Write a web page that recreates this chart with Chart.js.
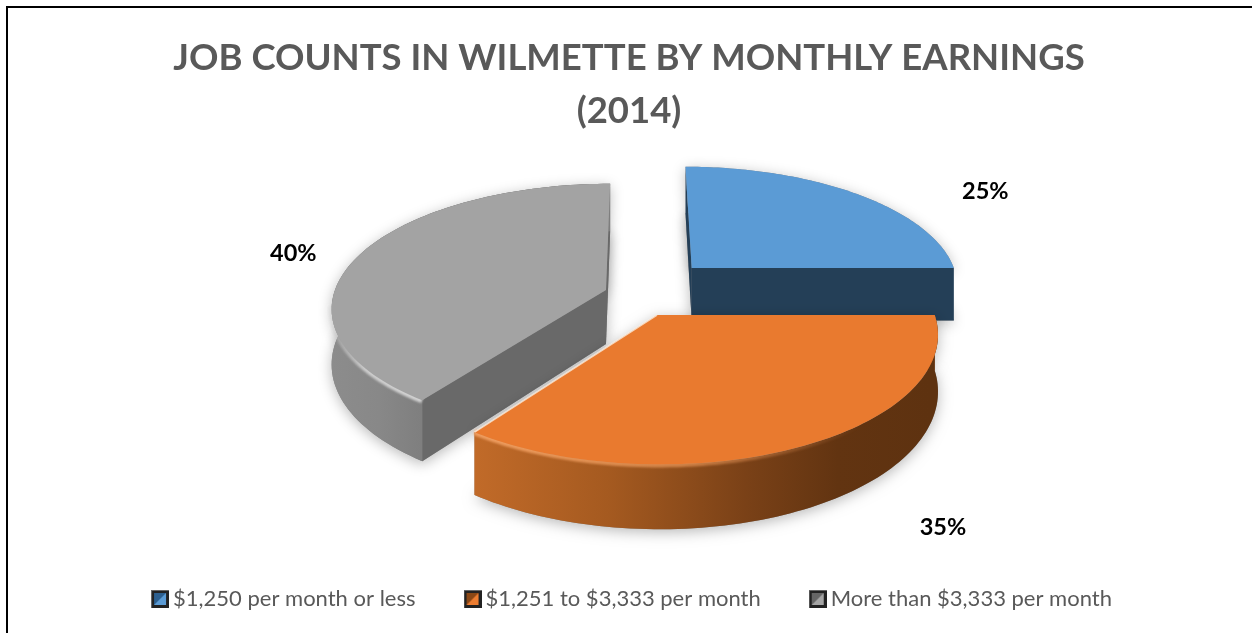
<!DOCTYPE html>
<html><head><meta charset="utf-8">
<style>
html,body{margin:0;padding:0;background:#fff;overflow:hidden}
#wrap{position:absolute;left:0;top:0;width:1252px;height:633px}
#frame{position:absolute;left:6px;top:6px;right:-4px;bottom:-4px;border:2px solid #000}
canvas{position:absolute;left:0;top:0}
</style>
<script src="https://cdn.jsdelivr.net/npm/chart.js@4"></script>
</head><body>
<div id="wrap"><canvas id="c" width="1252" height="633"></canvas><div id="frame"></div></div>
<script>
const titleLines = ['JOB COUNTS IN WILMETTE BY MONTHLY EARNINGS', '(2014)'];
const categories = ['$1,250 per month or less', '$1,251 to $3,333 per month', 'More than $3,333 per month'];
const shares = [25, 35, 40];
const topColors = ['#5B9BD5', '#E97A2F', '#A3A3A3'];

// view of the tilted pie: vanishing x, plane y, horizon distance, tilt, thickness
const view = {vx: 640, cy: 290, H: 870, ky: 121, depth: 54};
// per-slice radius and apex displacement on the pie plane (exploded slices)
const radiusU = [269, 270, 271];
const apexU = [53, 16.5, -34];
const apexV = [-22.6, 24.3, 0];
const labelShift = [[129, -2], [139, 82], [-67, -1]];
const drawOrder = [0, 2, 1];

function swatch(base, dark) {
  const n = 18, c = document.createElement('canvas');
  c.width = c.height = n;
  const g = c.getContext('2d');
  g.fillStyle = '#222'; g.fillRect(0, 0, n, n);
  g.fillStyle = '#666'; g.fillRect(0, 0, n, 1); g.fillRect(0, 0, 1, n);
  g.fillStyle = dark; g.fillRect(3, 3, n - 6, n - 6);
  g.fillStyle = base; g.beginPath(); g.moveTo(n - 3, 3); g.lineTo(n - 3, n - 3); g.lineTo(3, n - 3); g.closePath(); g.fill();
  return c;
}
const swatches = [swatch('#5B9BD5', '#2C5F8F'), swatch('#ED7D31', '#8A4715'), swatch('#A5A5A5', '#666666')];

function project(U, Vk) {
  const s = 1 / (1 - Vk / view.H);
  return {x: view.vx + U * s, y: view.cy + Vk * s, s};
}
function slicePoints(i, arc) {
  const pts = [], n = 90;
  for (let j = 0; j <= n; j++) {
    const a = arc.startAngle + (arc.endAngle - arc.startAngle) * j / n;
    pts.push(project(apexU[i] + radiusU[i] * Math.cos(a), apexV[i] + view.ky * Math.sin(a)));
  }
  return pts;
}
function down(p) { return {x: p.x, y: p.y + view.depth * p.s}; }
function trace(ctx, list) {
  ctx.beginPath();
  list.forEach((p, k) => k ? ctx.lineTo(p.x, p.y) : ctx.moveTo(p.x, p.y));
  ctx.closePath();
}
function hGrad(ctx, x0, x1, stops) {
  const g = ctx.createLinearGradient(x0, 0, x1, 0);
  stops.forEach(s => g.addColorStop(s[0], s[1]));
  return g;
}

const walls = [
  {rim: () => '#243F57', cut: '#243F57', hi: null},
  {rim: ctx => hGrad(ctx, 470, 930, [[0, '#C26B29'], [0.3, '#A55A20'], [0.6, '#7A4117'], [0.8, '#623411'], [1, '#5E3210']]), cut: '#8A4715',
   hi: ctx => hGrad(ctx, 470, 860, [[0, 'rgba(250,170,110,.8)'], [0.55, 'rgba(250,165,100,.6)'], [1, 'rgba(250,160,100,0)']])},
  {rim: ctx => hGrad(ctx, 333, 425, [[0, '#8C8C8C'], [0.5, '#888'], [1, '#7E7E7E']]), cut: '#696969',
   hi: ctx => hGrad(ctx, 333, 425, [[0, 'rgba(205,205,205,.3)'], [0.35, 'rgba(215,215,215,.85)'], [1, 'rgba(225,225,225,.85)']])}
];

const pie3d = {
  id: 'pie3d',
  afterLayout(chart) {
    chart.legend.left += 6; chart.legend.right += 6;
  },
  beforeDatasetsDraw(chart) {
    const ctx = chart.ctx, arcs = chart.getDatasetMeta(0).data;
    ctx.save();
    ctx.lineJoin = 'round';
    drawOrder.forEach(i => {
      const pts = slicePoints(i, arcs[i]);
      const apex = project(apexU[i], apexV[i]);
      const low = pts.map(down), lowApex = down(apex);
      const w = walls[i];
      // soft ground shadow
      ctx.save();
      ctx.shadowColor = 'rgba(0,0,0,.28)'; ctx.shadowBlur = 14; ctx.shadowOffsetY = 3;
      ctx.fillStyle = '#888';
      trace(ctx, [lowApex, ...low]); ctx.fill();
      trace(ctx, [apex, ...pts]); ctx.fill();
      ctx.restore();
      // straight walls
      ctx.fillStyle = w.cut;
      [0, pts.length - 1].forEach(e => {
        trace(ctx, [apex, pts[e], low[e], lowApex]); ctx.fill();
      });
      // outer wall
      ctx.fillStyle = w.rim(ctx);
      if (i) { trace(ctx, pts.concat(low.slice().reverse())); ctx.fill(); }
      // bevel glow along the front rim
      if (w.hi) {
        ctx.save();
        ctx.filter = 'blur(1.2px)';
        ctx.strokeStyle = w.hi(ctx); ctx.lineWidth = 6;
        const vis = pts.filter(p => p.y > apex.y + 15);
        ctx.beginPath();
        vis.forEach((p, k) => k ? ctx.lineTo(p.x, p.y) : ctx.moveTo(p.x, p.y));
        ctx.stroke();
        ctx.restore();
      }
      // top face
      ctx.save();
      ctx.filter = 'blur(0.5px)';
      ctx.fillStyle = arcs[i].options.backgroundColor;
      trace(ctx, [apex, ...pts]); ctx.fill();
      ctx.restore();
      if (i === 1) {
        ctx.strokeStyle = 'rgba(255,240,225,.8)'; ctx.lineWidth = 1.5;
        const end = pts[pts.length - 1];
        ctx.beginPath(); ctx.moveTo(apex.x, apex.y); ctx.lineTo(end.x, end.y); ctx.stroke();
      }
    });
    // percentage labels
    ctx.fillStyle = '#000';
    ctx.font = 'bold 23.5px Lato';
    ctx.textAlign = 'center'; ctx.textBaseline = 'middle';
    arcs.forEach((arc, i) => {
      const a = (arc.startAngle + arc.endAngle) / 2;
      const p = project(apexU[i] + radiusU[i] * Math.cos(a), apexV[i] + view.ky * Math.sin(a));
      ctx.fillText(shares[i] + '%', p.x + labelShift[i][0], p.y + labelShift[i][1]);
    });
    ctx.restore();
    return false;
  },
  beforeDatasetDraw() { return false; }
};

new Chart(document.getElementById('c'), {
  type: 'pie',
  data: {labels: categories, datasets: [{data: shares, backgroundColor: topColors, borderWidth: 0}]},
  plugins: [pie3d],
  options: {
    responsive: false, animation: false, devicePixelRatio: 1,
    layout: {padding: {left: 6, top: 32, right: 0, bottom: 13}},
    plugins: {
      tooltip: {enabled: false},
      title: {display: true, text: titleLines, color: '#595959',
        font: {family: 'Lato', size: 36.5, weight: 'bold', lineHeight: 1.45}, padding: {top: 0, bottom: 10}},
      legend: {position: 'bottom',
        labels: {color: '#595959', font: {family: 'Lato', size: 22}, usePointStyle: true, boxWidth: 4, boxHeight: 18, padding: 55,
          generateLabels: c => categories.map((t, i) => ({text: t, pointStyle: swatches[i], fontColor: '#595959', lineWidth: 0, hidden: false, index: i}))}}
    }
  }
});
</script>
</body></html>
